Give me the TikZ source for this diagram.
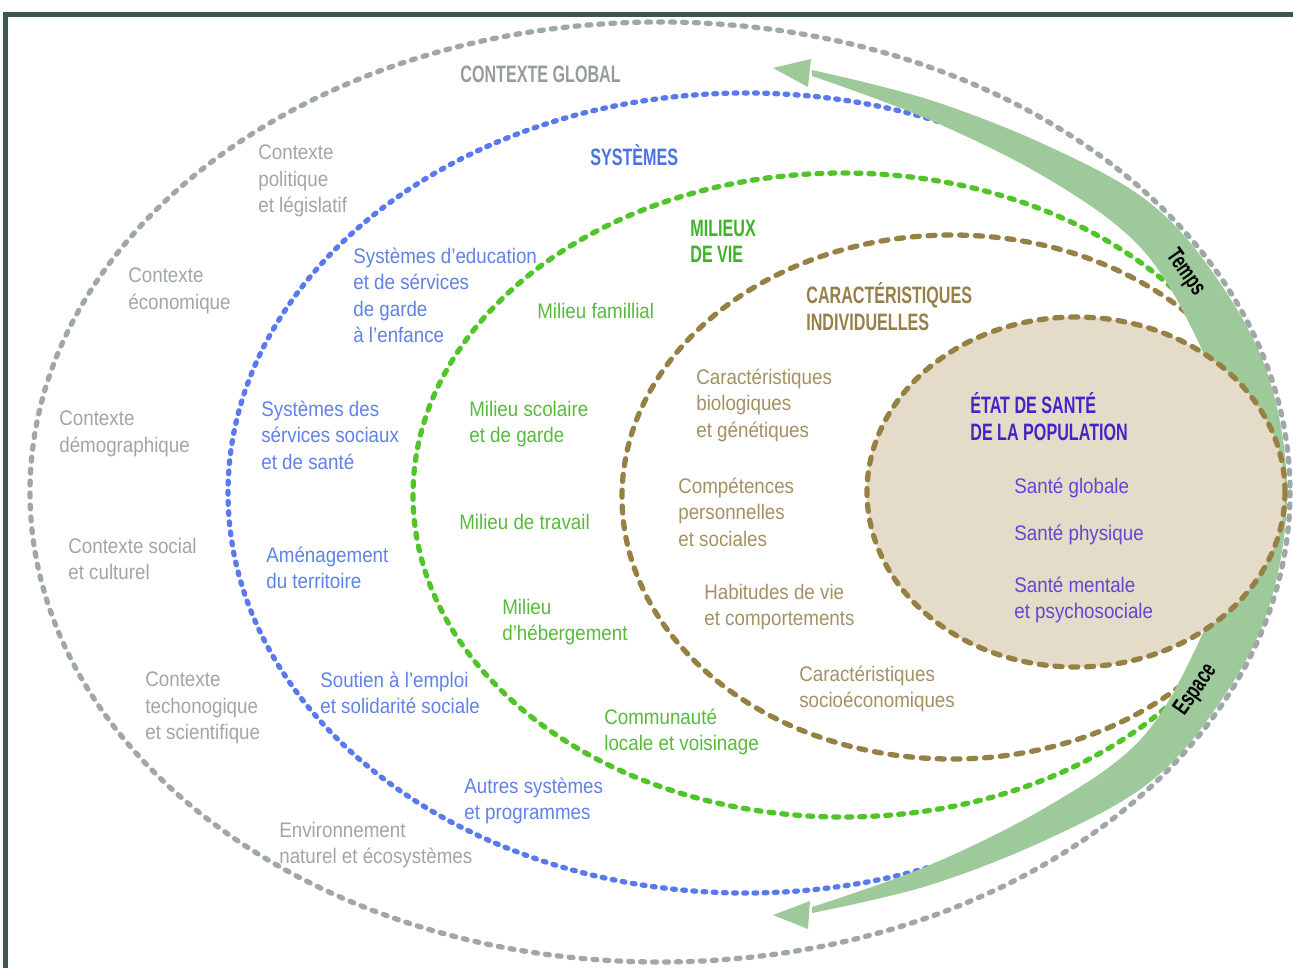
\documentclass[tikz,border=0pt]{standalone}
\usepackage{fontspec}
\setmainfont[FakeStretch=0.89]{Liberation Sans}
\newfontfamily\headfont[FakeStretch=0.68]{Liberation Sans}
\usepackage{tikz}

\definecolor{framecol}{RGB}{63,85,81}
\definecolor{ctxgray}{RGB}{160,166,166}
\definecolor{ctxhead}{RGB}{150,156,156}
\definecolor{graydash}{RGB}{160,167,167}
\definecolor{systext}{RGB}{96,130,228}
\definecolor{syshead}{RGB}{75,115,225}
\definecolor{bluedash}{RGB}{88,122,238}
\definecolor{miltext}{RGB}{88,185,60}
\definecolor{milhead}{RGB}{62,178,40}
\definecolor{greendash}{RGB}{80,196,40}
\definecolor{cartext}{RGB}{163,145,100}
\definecolor{carhead}{RGB}{150,128,72}
\definecolor{browndash}{RGB}{150,128,68}
\definecolor{statefill}{RGB}{228,220,200}
\definecolor{etathead}{RGB}{68,36,200}
\definecolor{etattext}{RGB}{96,72,214}
\definecolor{bandgreen}{RGB}{158,202,155}

\begin{document}
\begin{tikzpicture}[x=0.02cm, y=-0.02cm,
  txt/.style={anchor=north west, inner sep=0pt, align=left, font=\fontsize{12}{15.1}\selectfont},
  head/.style={txt, font=\headfont\bfseries\fontsize{13.5}{15.1}\selectfont},
  graydots/.style={draw=graydash, line width=3pt, line cap=round, dash pattern=on 2.2pt off 4.6pt},
  bluedots/.style={draw=bluedash, line width=3pt, line cap=round, dash pattern=on 1.6pt off 4.2pt},
  greendots/.style={draw=greendash, line width=3pt, line cap=round, dash pattern=on 2.8pt off 4.6pt},
  browndots/.style={draw=browndash, line width=3pt, line cap=round, dash pattern=on 4pt off 5pt}]
\useasboundingbox (0,0) rectangle (1293,968);
% frame
\fill[framecol] (3,12) rectangle (1293,17);
\fill[framecol] (3,12) rectangle (8,968);
% rings
\begin{scope}
\clip (0,0) rectangle (1280,968);
\draw[bluedots] (746,493) ellipse [x radius=518, y radius=400];
\draw[greendots] (843,495) ellipse [x radius=430, y radius=322];
\draw[browndots] (952,497) ellipse [x radius=330, y radius=262];
\end{scope}
% time and space band
\fill[bandgreen] plot[smooth, tension=0.6] coordinates {(812,70) (930,100) (1050,147) (1150,203) (1218,280) (1268,375) (1287,492) (1268,610) (1218,705) (1150,782) (1050,838) (930,885) (812,913)}
  -- plot[smooth, tension=0.6] coordinates {(812,907) (930,865) (1050,805) (1140,740) (1195,650) (1225,565) (1232,492) (1225,420) (1195,335) (1140,247) (1050,180) (930,120) (812,76)} -- cycle;
\fill[bandgreen] (773,68) -- (811,59) -- (808,87) -- cycle;
\fill[bandgreen] (773,915) -- (810,901) -- (808,929) -- cycle;
\draw[graydots] (660,492) ellipse [x radius=630, y radius=470];
% population
\filldraw[fill=statefill, browndots] (1076,492) ellipse [x radius=209, y radius=175];

% contexte global
\node[head, ctxhead] (glob) at (460,65.5) {CONTEXTE GLOBAL};
\node[txt, ctxgray] (polit) at (258,144.5) {Contexte\\politique\\et législatif};
\node[txt, ctxgray] (econ) at (128,267.5) {Contexte\\économique};
\node[txt, ctxgray] (demo) at (59,410.5) {Contexte\\démographique};
\node[txt, ctxgray] (soc) at (68,537.5) {Contexte social\\et culturel};
\node[txt, ctxgray] (techno) at (145,671.5) {Contexte\\techonogique\\et scientifique};
\node[txt, ctxgray] (envir) at (279,821.5) {Environnement\\naturel et écosystèmes};
% systemes
\node[head, syshead] (sys) at (590,144.5) {SYSTÈMES};
\node[txt, systext] (educ) at (353,247.5) {Systèmes d’education\\et de sérvices\\de garde\\à l’enfance};
\node[txt, systext] (servsoc) at (261,400.5) {Systèmes des\\sérvices sociaux\\et de santé};
\node[txt, systext] (amen) at (266,546.5) {Aménagement\\du territoire};
\node[txt, systext] (emploi) at (320,671.5) {Soutien à l’emploi\\et solidarité sociale};
\node[txt, systext] (autres) at (464,777.5) {Autres systèmes\\et programmes};
% milieux de vie
\node[head, milhead] (milieux) at (690,219.5) {MILIEUX\\DE VIE};
\node[txt, miltext] (famil) at (537,302.5) {Milieu famillial};
\node[txt, miltext] (scol) at (469,400.5) {Milieu scolaire\\et de garde};
\node[txt, miltext] (trav) at (459,513.5) {Milieu de travail};
\node[txt, miltext] (heberg) at (502,598.5) {Milieu\\d’hébergement};
\node[txt, miltext] (commu) at (604,708.5) {Communauté\\locale et voisinage};
% caracteristiques individuelles
\node[head, carhead] (carac) at (806,282.5) {CARACTÉRISTIQUES\\INDIVIDUELLES};
\node[txt, cartext] (bio) at (696,368.5) {Caractéristiques\\biologiques\\et génétiques};
\node[txt, cartext] (compet) at (678,477.5) {Compétences\\personnelles\\et sociales};
\node[txt, cartext] (habit) at (704,583.5) {Habitudes de vie\\et comportements};
\node[txt, cartext] (socioeco) at (799,665.5) {Caractéristiques\\socioéconomiques};
% etat de sante
\node[head, etathead] (etat) at (970,392.5) {ÉTAT DE SANTÉ\\DE LA POPULATION};
\node[txt, etattext] (globale) at (1014,477.5) {Santé globale};
\node[txt, etattext] (physique) at (1014,524.5) {Santé physique};
\node[txt, etattext] (mentale) at (1014,576.5) {Santé mentale\\et psychosociale};
% band labels
\node[head, anchor=center, black, rotate=-55] (temps) at (1185,273) {Temps};
\node[head, anchor=center, black, rotate=55] (espace) at (1196,690) {Espace};
\end{tikzpicture}
\end{document}
